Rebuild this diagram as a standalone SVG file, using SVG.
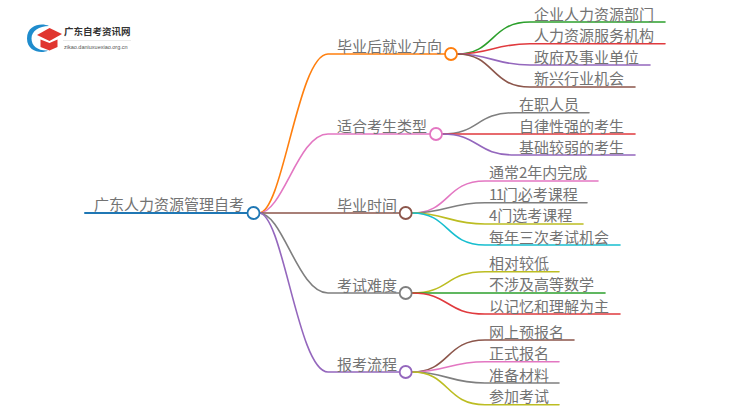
<svg xmlns="http://www.w3.org/2000/svg" width="750" height="410" viewBox="0 0 750 410">
<style>
text{font-family:"Noto Sans CJK SC","Noto Sans",sans-serif;fill:#737373;font-size:15px}
#connectors path{fill:none;stroke-width:1.600;stroke-linecap:round}
.dot{fill:#fff;stroke-width:1.800}
.or{stroke:#ff7f0e}.pk{stroke:#e377c2}.br{stroke:#8c564b}.gy{stroke:#7f7f7f}.pu{stroke:#9467bd}.gn{stroke:#2ca02c}.rd{stroke:#e03a3e}.ol{stroke:#bcbd22}.cy{stroke:#17becf}
</style>
<rect width="750" height="410" fill="#fff"/>
<g id="logo">
<path d="M49 26C42 22.500 27 24.500 27 38.500C27 52 42 54 48 50.500C38 51 31.500 46 31.500 38.500C31.500 31 39 26 49 26Z" fill="#1f8ccd"/>
<path d="M40.500 39.500v7.500l9 3.500 8-3.500v-7.500l-8 3.500z" fill="#e0352f"/>
<path d="M37 35l12.500-7 12.500 6-12.500 7z" fill="#e0352f"/>
<text x="64" y="35" style="font-size:9.500px;fill:#333;font-weight:700">广东自考资讯网</text>
<rect x="63" y="40" width="68" height="0.600" fill="#ddd"/>
<text x="64" y="49" style="font-size:5.500px;fill:#555;font-family:'Liberation Sans',sans-serif">zikao.daniuxuexiao.org.cn</text>
</g>
<g id="connectors">
<path d="M85 213H247" style="stroke:#1f77b4;stroke-width:2"/>
<path class="or" d="M259 213C283 213 298 54 328 54H445"/>
<path class="pk" d="M259 213C283 213 298 134 328 134H430"/>
<path class="br" d="M259 213H400"/>
<path class="gy" d="M259 213C283 213 298 293 328 293H400"/>
<path class="pu" d="M259 213C283 213 298 372 328 372H400"/>
<path class="gn" d="M457 54C495 54 490 22 530 22H665"/>
<path class="rd" d="M457 54C490 54 495 43.700 530 43.700H665"/>
<path class="pu" d="M457 54C490 54 495 65 530 65H650"/>
<path class="br" d="M457 54C495 54 490 87 530 87H635"/>
<path class="gy" d="M442 134C480 134 475 112.700 515 112.700H589"/>
<path class="rd" d="M442 134H635"/>
<path class="pu" d="M442 134C480 134 475 155 515 155H635"/>
<path class="pk" d="M412 213C450 213 445 181 485 181H598"/>
<path class="gy" d="M412 213C445 213 450 202.700 485 202.700H587"/>
<path class="ol" d="M412 213C445 213 450 224 485 224H583"/>
<path class="cy" d="M412 213C450 213 445 245 485 245H620"/>
<path class="ol" d="M412 293C450 293 445 271.700 485 271.700H559"/>
<path class="gn" d="M412 293H605"/>
<path class="rd" d="M412 293C450 293 445 314 485 314H620"/>
<path class="br" d="M412 372C450 372 445 340 485 340H574"/>
<path class="pk" d="M412 372C445 372 450 361.700 485 361.700H559"/>
<path class="gy" d="M412 372C445 372 450 383 485 383H559"/>
<path class="ol" d="M412 372C450 372 445 404.700 485 404.700H559"/>
</g>
<g id="root"><text x="94" y="210">广东人力资源管理自考</text><circle class="dot" cx="253.500" cy="213" r="6" stroke="#1f77b4"/></g>
<g id="b1"><text x="337" y="52">毕业后就业方向</text><circle class="dot or" cx="451" cy="54" r="6"/></g>
<g id="b2"><text x="337" y="132">适合考生类型</text><circle class="dot pk" cx="436" cy="134" r="6"/></g>
<g id="b3"><text x="337" y="211">毕业时间</text><circle class="dot br" cx="405.700" cy="213" r="6"/></g>
<g id="b4"><text x="337" y="291">考试难度</text><circle class="dot gy" cx="405.700" cy="293" r="6"/></g>
<g id="b5"><text x="337" y="370">报考流程</text><circle class="dot pu" cx="405.700" cy="372" r="6"/></g>
<g id="leaf1"><text x="534" y="20">企业人力资源部门</text></g>
<g id="leaf2"><text x="534" y="41">人力资源服务机构</text></g>
<g id="leaf3"><text x="534" y="63">政府及事业单位</text></g>
<g id="leaf4"><text x="534" y="84">新兴行业机会</text></g>
<g id="leaf5"><text x="519" y="110">在职人员</text></g>
<g id="leaf6"><text x="519" y="132">自律性强的考生</text></g>
<g id="leaf7"><text x="519" y="153">基础较弱的考生</text></g>
<g id="leaf8"><text x="489" y="178">通常2年内完成</text></g>
<g id="leaf9"><text x="489" y="200"><tspan letter-spacing="-1.500">11</tspan>门必考课程</text></g>
<g id="leaf10"><text x="489" y="221">4门选考课程</text></g>
<g id="leaf11"><text x="489" y="243">每年三次考试机会</text></g>
<g id="leaf12"><text x="489" y="269">相对较低</text></g>
<g id="leaf13"><text x="489" y="290">不涉及高等数学</text></g>
<g id="leaf14"><text x="489" y="312">以记忆和理解为主</text></g>
<g id="leaf15"><text x="489" y="338">网上预报名</text></g>
<g id="leaf16"><text x="489" y="359">正式报名</text></g>
<g id="leaf17"><text x="489" y="381">准备材料</text></g>
<g id="leaf18"><text x="489" y="402">参加考试</text></g>
</svg>
